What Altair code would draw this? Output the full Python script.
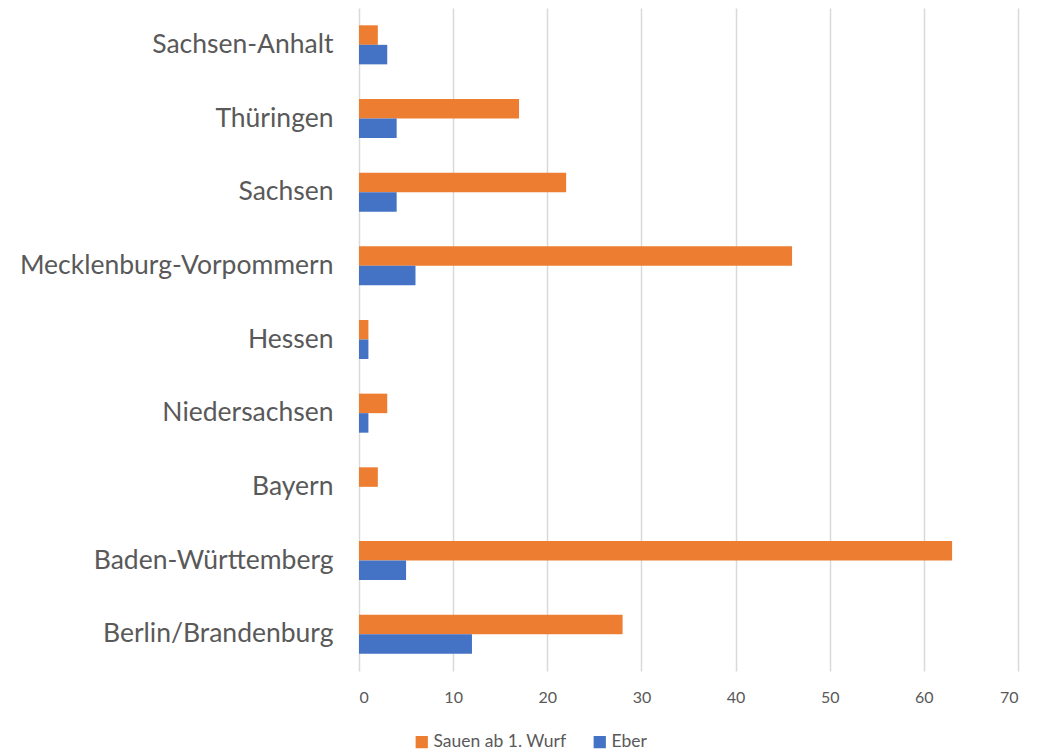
import altair as alt
import pandas as pd

categories = ["Sachsen-Anhalt", "Thüringen", "Sachsen", "Mecklenburg-Vorpommern",
              "Hessen", "Niedersachsen", "Bayern", "Baden-Württemberg", "Berlin/Brandenburg"]
sauen = [2, 17, 22, 46, 1, 3, 2, 63, 28]
eber = [3, 4, 4, 6, 1, 1, 0, 5, 12]
series = ["Sauen ab 1. Wurf", "Eber"]
colors = ["#ED7D31", "#4472C4"]

rows = []
for c, s, e in zip(categories, sauen, eber):
    rows.append({"Land": c, "Serie": series[0], "Wert": s})
    rows.append({"Land": c, "Serie": series[1], "Wert": e})
df = pd.DataFrame(rows)

FONT = "Lato"
GREY = "#595959"

chart = alt.Chart(df).mark_bar().encode(
    y=alt.Y("Land:N", sort=categories,
            scale=alt.Scale(paddingInner=0.47, paddingOuter=0.235),
            axis=alt.Axis(title=None, labelFontSize=26.5, labelColor=GREY, labelFont=FONT,
                          ticks=False, domain=False, labelPadding=26, labelLimit=400)),
    yOffset=alt.YOffset("Serie:N", sort=series),
    x=alt.X("Wert:Q", scale=alt.Scale(domain=[0, 70], nice=False),
            axis=alt.Axis(title=None, values=list(range(0, 71, 10)), labelFontSize=16,
                          labelColor=GREY, labelFont=FONT, ticks=False, domain=False,
                          grid=True, gridColor="#D9D9D9", gridWidth=1.5, labelPadding=18)),
    color=alt.Color("Serie:N", sort=series,
                    scale=alt.Scale(domain=series, range=colors),
                    legend=alt.Legend(title=None, orient="none", direction="horizontal",
                                      legendX=54, legendY=725,
                                      symbolType="square", symbolSize=150, symbolStrokeWidth=0,
                                      labelFontSize=17.5, labelColor=GREY, labelFont=FONT,
                                      labelOffset=3, columnPadding=24)),
).properties(
    width=659, height=663,
    padding={"left": 351, "top": 0, "right": 20, "bottom": 100},
    autosize=alt.AutoSizeParams(type="none"),
).configure_view(stroke=None)

chart.save("out.html", embed_options={"renderer": "svg", "actions": False})
